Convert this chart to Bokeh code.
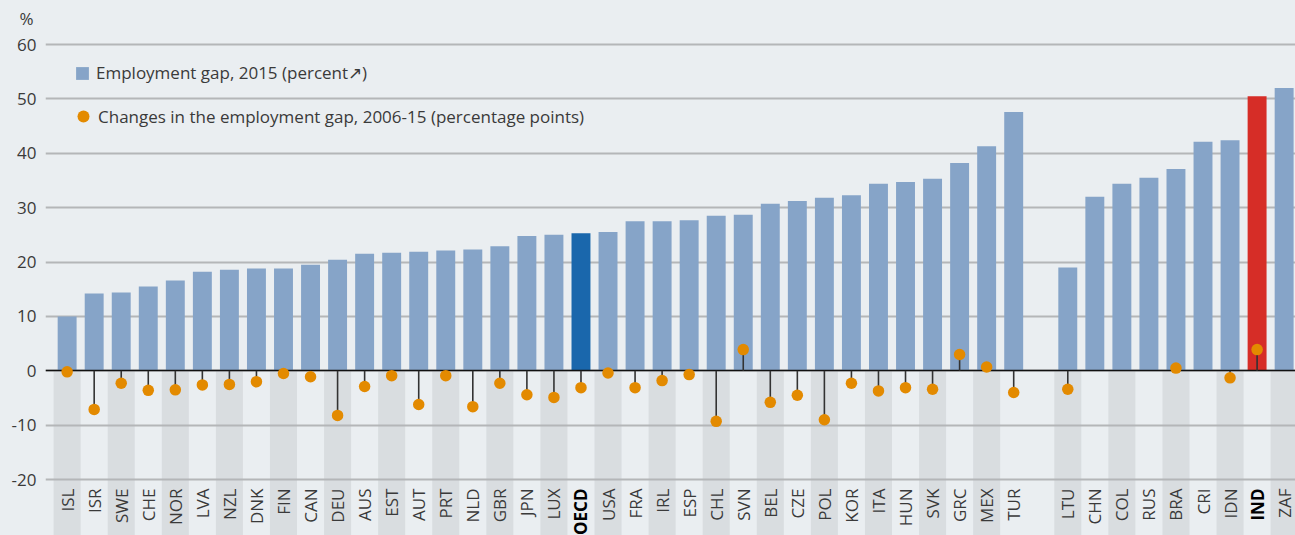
import math
from bokeh.plotting import figure
from bokeh.models import ColumnDataSource, Range1d, FixedTicker, Legend, LegendItem
from bokeh.core.properties import value
from bokeh.embed import file_html
from bokeh.resources import INLINE

# ---------------- data ----------------
countries = ["ISL", "ISR", "SWE", "CHE", "NOR", "LVA", "NZL", "DNK", "FIN", "CAN",
             "DEU", "AUS", "EST", "AUT", "PRT", "NLD", "GBR", "JPN", "LUX", "OECD",
             "USA", "FRA", "IRL", "ESP", "CHL", "SVN", "BEL", "CZE", "POL", "KOR",
             "ITA", "HUN", "SVK", "GRC", "MEX", "TUR",
             "LTU", "CHN", "COL", "RUS", "BRA", "CRI", "IDN", "IND", "ZAF"]
gap_2015 = [10.0, 14.2, 14.4, 15.5, 16.6, 18.2, 18.6, 18.8, 18.8, 19.5,
            20.4, 21.5, 21.7, 21.9, 22.1, 22.3, 22.9, 24.8, 25.0, 25.3,
            25.5, 27.5, 27.5, 27.7, 28.5, 28.7, 30.7, 31.2, 31.8, 32.3,
            34.4, 34.7, 35.3, 38.2, 41.3, 47.6,
            19.0, 32.0, 34.4, 35.5, 37.1, 42.1, 42.4, 50.5, 52.0]
change_2006_15 = [-0.2, -7.1, -2.3, -3.6, -3.5, -2.6, -2.5, -2.0, -0.5, -1.1,
                  -8.2, -2.9, -0.9, -6.2, -0.9, -6.6, -2.3, -4.4, -4.9, -3.1,
                  -0.4, -3.1, -1.8, -0.7, -9.3, 3.9, -5.8, -4.5, -9.0, -2.3,
                  -3.7, -3.1, -3.4, 3.0, 0.7, -4.0,
                  -3.4, None, None, None, 0.5, None, -1.3, 3.9, None]
first_group_size = 36          # countries before the gap
highlight = {"OECD": "#1A67AC", "IND": "#D62D27"}
y_ticks = [-20, -10, 0, 10, 20, 30, 40, 50, 60]
unit_label = "%"

# ---------------- styling ----------------
BG = "#EAEEF1"
SHADE = "#D9DDE0"
BAR = "#86A4C8"
DOT = "#E38A00"
TXT = "#3A3A3A"
FONT = "Open Sans"

# positions: one empty slot between the two groups
xs = [i if i < first_group_size else i + 1 for i in range(len(countries))]
shaded = [x for k, x in enumerate(xs)
          if (k if k < first_group_size else k - first_group_size) % 2 == 0]

Y0, Y1 = -30.29, 61.84
p = figure(width=1295, height=535, output_backend="svg", toolbar_location=None,
           x_range=Range1d(-0.80, 45.42), y_range=Range1d(Y0, Y1),
           x_axis_location=None, min_border_left=45, min_border_right=0,
           min_border_top=34, min_border_bottom=0,
           background_fill_color=BG, border_fill_color=BG, outline_line_color=None,
           title=unit_label)

p.title.align = "left"
p.title.offset = -26
p.title.standoff = 9
p.title.text_font = FONT
p.title.text_font_size = "17px"
p.title.text_font_style = "normal"
p.title.text_color = TXT

# alternating column shading below zero
p.vbar(x=shaded, width=1.0, top=0, bottom=Y0 - 5, fill_color=SHADE,
       line_color=None, level="image")

# y axis and grid
p.yaxis.ticker = FixedTicker(ticks=y_ticks)
p.yaxis.major_label_overrides = {t: str(t) for t in y_ticks}
p.yaxis.axis_line_color = None
p.yaxis.major_tick_line_color = None
p.yaxis.minor_tick_line_color = None
p.yaxis.major_tick_out = 0
p.yaxis.major_tick_in = 0
p.yaxis.major_label_standoff = 9
p.yaxis.major_label_text_font = FONT
p.yaxis.major_label_text_font_size = "17px"
p.yaxis.major_label_text_color = TXT
p.ygrid.ticker = FixedTicker(ticks=y_ticks)
p.ygrid.grid_line_color = "#B4B6B8"
p.ygrid.grid_line_width = 2
p.xgrid.visible = False

# bars
colors = [highlight.get(c, BAR) for c in countries]
bar_src = ColumnDataSource(dict(x=xs, top=gap_2015, color=colors))
bars = p.vbar(x="x", top="top", bottom=0, width=0.70, fill_color="color",
              line_color=None, source=bar_src)

# zero line
p.hspan(y=[0], line_color="#111111", line_width=1.6)

# lollipops
chg = [float("nan") if v is None else v for v in change_2006_15]
dot_src = ColumnDataSource(dict(x=xs, y=chg))
p.segment(x0="x", y0=0, x1="x", y1="y", line_color="#333333", line_width=1.6,
          source=dot_src)
dots = p.scatter(x="x", y="y", size=11.5, fill_color=DOT, line_color=None,
                 source=dot_src)

# category labels
styles = ["bold" if c in highlight else "normal" for c in countries]
lab_colors = ["#000000" if c in highlight else TXT for c in countries]
lab_src = ColumnDataSource(dict(x=xs, text=countries, style=styles, color=lab_colors))
p.text(x="x", y=-21.65, text="text", angle=math.pi / 2, text_align="right",
       text_baseline="middle", text_font=value(FONT), text_font_size="17px",
       text_font_style="style", text_color="color", source=lab_src)

# legends
leg_common = dict(padding=0, margin=0, border_line_color=None,
                  background_fill_alpha=0, label_text_font=FONT,
                  label_text_font_size="17px", label_text_color=TXT)
leg1 = Legend(items=[LegendItem(label="Employment gap, 2015 (percent\u2197)",
                                renderers=[bars], index=0)],
              location=(29, 451), glyph_width=16, glyph_height=16,
              label_standoff=6, label_height=16, **leg_common)
leg2 = Legend(items=[LegendItem(label="Changes in the employment gap, 2006-15 (percentage points)",
                                renderers=[dots], index=0)],
              location=(23, 404), glyph_width=30, glyph_height=30,
              label_standoff=0, label_height=16, **leg_common)
p.add_layout(leg1)
p.add_layout(leg2)

html = file_html(p, INLINE).replace("<body>", '<body style="background-color:#EAEEF1;">')
open("out.html", "w").write(html)
